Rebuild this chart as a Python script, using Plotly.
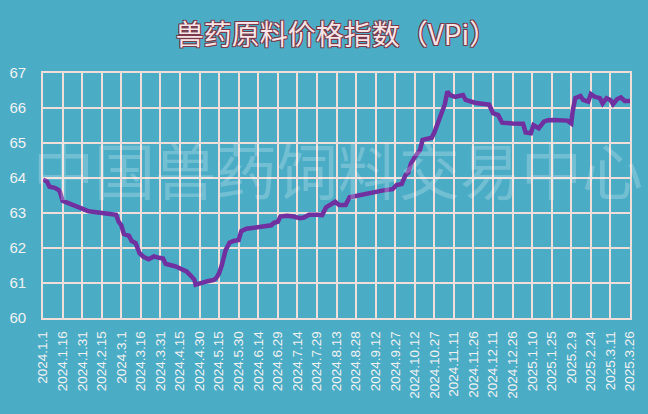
import plotly.graph_objects as go

# ---- data ----
day_offsets = [0, 3, 5, 9, 12, 13, 15, 18, 22, 25, 29, 35, 40, 45, 50, 56, 58, 60, 62, 66,
               68, 71, 74, 77, 81, 85, 89, 92, 94, 98, 102, 106, 110, 113, 116, 117, 120, 123,
               126, 131, 133, 135, 137, 138, 140, 143, 146, 150, 152, 156, 160, 165, 171, 175,
               177, 180, 182, 187, 192, 197, 200, 204, 210, 214, 217, 221, 224, 227, 232, 235,
               241, 244, 251, 256, 260, 268, 271, 275, 278, 280, 282, 285, 287, 289, 291, 295,
               298, 300, 302, 304, 306, 308, 310, 312, 316, 319, 322, 324, 328, 331, 335, 341,
               342, 345, 349, 351, 352, 360, 368, 370, 374, 376, 380, 384, 387, 391, 397, 402,
               405, 406, 408, 412, 414, 418, 420, 423, 427, 429, 432, 435, 437, 440, 443, 446,
               450]
vpi_values = [63.96, 63.90, 63.75, 63.72, 63.66, 63.60, 63.35, 63.30, 63.23, 63.20, 63.14, 63.05,
              63.03, 63.00, 62.98, 62.95, 62.75, 62.65, 62.40, 62.35, 62.20, 62.14, 61.85, 61.75,
              61.68, 61.76, 61.72, 61.70, 61.55, 61.52, 61.47, 61.40, 61.33, 61.22, 61.10, 60.95,
              61.00, 61.02, 61.05, 61.09, 61.15, 61.28, 61.50, 61.70, 61.94, 62.15, 62.20, 62.23,
              62.48, 62.55, 62.57, 62.59, 62.61, 62.65, 62.72, 62.75, 62.90, 62.92, 62.90, 62.85,
              62.87, 62.95, 62.95, 62.94, 63.16, 63.25, 63.32, 63.23, 63.23, 63.45, 63.50, 63.51,
              63.58, 63.60, 63.64, 63.68, 63.80, 63.83, 64.09, 64.15, 64.40, 64.60, 64.70, 64.80,
              65.09, 65.12, 65.15, 65.30, 65.50, 65.75, 65.95, 66.10, 66.47, 66.37, 66.32, 66.35,
              66.37, 66.23, 66.18, 66.15, 66.13, 66.13, 66.10, 65.85, 65.80, 65.65, 65.58, 65.56,
              65.55, 65.30, 65.28, 65.51, 65.42, 65.61, 65.65, 65.66, 65.66, 65.64, 65.56, 65.90,
              66.28, 66.34, 66.23, 66.18, 66.40, 66.32, 66.28, 66.13, 66.28, 66.23, 66.11, 66.25,
              66.30, 66.20, 66.20, 66.08]

tick_days = list(range(0, 451, 15))
tick_labels = ["2024.1.1", "2024.1.16", "2024.1.31", "2024.2.15", "2024.3.1", "2024.3.16",
               "2024.3.31", "2024.4.15", "2024.4.30", "2024.5.15", "2024.5.30", "2024.6.14",
               "2024.6.29", "2024.7.14", "2024.7.29", "2024.8.13", "2024.8.28", "2024.9.12",
               "2024.9.27", "2024.10.12", "2024.10.27", "2024.11.11", "2024.11.26", "2024.12.11",
               "2024.12.26", "2025.1.10", "2025.1.25", "2025.2.9", "2025.2.24", "2025.3.11",
               "2025.3.26"]
y_ticks = [60, 61, 62, 63, 64, 65, 66, 67]

title_text = "兽药原料价格指数（VPi）"
watermark_text = "中国兽药饲料交易中心"

# ---- styles ----
BG = "#4BACC6"
GRID = "#F0DEDA"
LINE = "#7030A0"
TICK = "#F2F2F2"

fig = go.Figure()
fig.add_trace(go.Scatter(
    x=day_offsets, y=vpi_values, mode="lines",
    line=dict(color=LINE, width=4.5),
    hoverinfo="skip", showlegend=False,
))

fig.update_layout(
    width=648, height=414,
    paper_bgcolor=BG, plot_bgcolor=BG,
    margin=dict(l=43, r=18, t=73, b=96, autoexpand=False),
    title=dict(
        text=title_text, x=0.5, xanchor="center", y=0.915, yanchor="middle",
        xref="paper", yref="container",
        font=dict(family="Noto Sans CJK SC", size=28, color="#F6E4E6",
                  shadow="-1px -1px 0 #7A3848, 1px -1px 0 #7A3848, -1px 1px 0 #7A3848, 1px 1px 0 #7A3848"),
    ),
    xaxis=dict(
        range=[0, 450], tickmode="array", tickvals=tick_days, ticktext=tick_labels,
        tickangle=-90, showgrid=True, gridcolor=GRID, gridwidth=1.6,
        showline=True, linecolor=GRID, linewidth=1.6, mirror=True,
        zeroline=False, ticks="", ticklabelstandoff=6, automargin=False,
        tickfont=dict(family="Liberation Sans", size=13.5, color=TICK),
    ),
    yaxis=dict(
        range=[60, 67], tickmode="array", tickvals=y_ticks,
        showgrid=True, gridcolor=GRID, gridwidth=1.6,
        showline=True, linecolor=GRID, linewidth=1.6, mirror=True,
        zeroline=False, ticks="", ticklabelstandoff=12, automargin=False,
        tickfont=dict(family="Liberation Sans", size=15, color=TICK),
    ),
    annotations=[dict(
        text=watermark_text, xref="paper", yref="paper", x=0.503, y=0.612,
        xanchor="center", yanchor="middle", showarrow=False,
        font=dict(family="Noto Sans CJK SC", size=61, color="rgba(255,255,255,0.22)"),
    )],
)

fig.write_html(
    "out.html",
    config={"displayModeBar": False},
    post_script="document.body.style.margin='0px';document.body.style.background='#4BACC6';",
)
